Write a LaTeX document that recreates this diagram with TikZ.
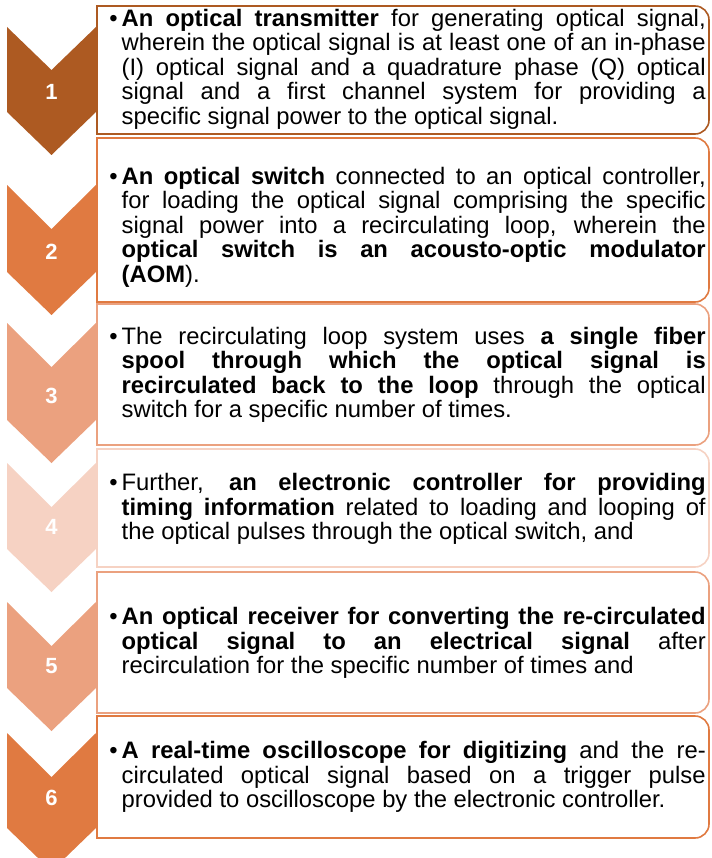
\documentclass[tikz,border=0pt]{standalone}
\usepackage{fontspec}
\setmainfont{Liberation Sans}
\definecolor{stepone}{RGB}{173,90,34}
\definecolor{steptwo}{RGB}{224,122,65}
\definecolor{stepthree}{RGB}{235,161,127}
\definecolor{stepfour}{RGB}{246,210,195}
\tolerance=10000
\hbadness=10000
\hyphenpenalty=10000
\exhyphenpenalty=10000

\begin{document}
\begin{tikzpicture}[x=1pt,y=-1pt,
	chev/.style={fill=#1},
	box/.style={draw=#1,line width=1.6pt,fill=white},
	num/.style={text=white,font=\fontsize{22}{22}\selectfont\bfseries},
	txt/.style={anchor=west,inner sep=0pt,text width=584pt,align=justify,
		font=\fontsize{23.8}{24.5}\selectfont}]
			\useasboundingbox (0,0) rectangle (711,858);
			
			% chevrons
			\fill[chev=stepone] (7,27) -- (51.5,70) -- (96,27) -- (96,112) -- (51.5,155) -- (7,112) -- cycle;
			\fill[chev=steptwo] (7,185) -- (51.5,229) -- (96,185) -- (96,272) -- (51.5,315) -- (7,272) -- cycle;
			\fill[chev=stepthree] (7,323) -- (51.5,367) -- (96,323) -- (96,420) -- (51.5,463) -- (7,420) -- cycle;
			\fill[chev=stepfour] (7,463) -- (51.5,507) -- (96,463) -- (96,549) -- (51.5,592) -- (7,549) -- cycle;
			\fill[chev=stepthree] (7,602) -- (51.5,646) -- (96,602) -- (96,688) -- (51.5,731) -- (7,688) -- cycle;
			\fill[chev=steptwo] (7,733) -- (51.5,777) -- (96,733) -- (96,828) -- (51.5,871) -- (7,828) -- cycle;
			
			\node[num] (n1) at (51.5,92) {1};
			\node[num] (n2) at (51.5,252) {2};
			\node[num] (n3) at (51.5,396) {3};
			\node[num] (n4) at (51.5,527) {4};
			\node[num] (n5) at (51.5,666) {5};
			\node[num] (n6) at (51.5,798) {6};
			
			% text boxes
			\draw[box=stepone] (97,6) -- (695,6) arc[start angle=-90,end angle=0,radius=14] -- (709,120) arc[start angle=0,end angle=90,radius=14] -- (97,134) -- cycle;
			\draw[box=steptwo] (97,138) -- (695,138) arc[start angle=-90,end angle=0,radius=14] -- (709,288) arc[start angle=0,end angle=90,radius=14] -- (97,302) -- cycle;
			\draw[box=stepthree] (97,304) -- (695,304) arc[start angle=-90,end angle=0,radius=14] -- (709,431) arc[start angle=0,end angle=90,radius=14] -- (97,445) -- cycle;
			\draw[box=stepfour] (97,449) -- (695,449) arc[start angle=-90,end angle=0,radius=14] -- (709,553) arc[start angle=0,end angle=90,radius=14] -- (97,567) -- cycle;
			\draw[box=stepthree] (97,572) -- (695,572) arc[start angle=-90,end angle=0,radius=14] -- (709,699) arc[start angle=0,end angle=90,radius=14] -- (97,713) -- cycle;
			\draw[box=steptwo] (97,716) -- (695,716) arc[start angle=-90,end angle=0,radius=14] -- (709,824) arc[start angle=0,end angle=90,radius=14] -- (97,838) -- cycle;
			
			\node[txt] (t1) at (121.5,69) {\leavevmode\llap{\textbullet\kern4pt}\textbf{An optical transmitter} for generating optical signal,\linebreak wherein the optical signal is at least one of an in-phase\linebreak (I) optical signal and a quadrature phase (Q) optical\linebreak signal and a first channel system for providing a\linebreak specific signal power to the optical signal.};
			\node[txt] (t2) at (121.5,227) {\leavevmode\llap{\textbullet\kern4pt}\textbf{An optical switch} connected to an optical controller,\linebreak for loading the optical signal comprising the specific\linebreak signal power into a recirculating loop, wherein the\linebreak \textbf{optical switch is an acousto-optic modulator}\linebreak \textbf{(AOM}).};
			\node[txt] (t3) at (121.5,375) {\leavevmode\llap{\textbullet\kern4pt}The recirculating loop system uses \textbf{a single fiber}\linebreak \textbf{spool through which the optical signal is}\linebreak \textbf{recirculated back to the loop} through the optical\linebreak switch for a specific number of times.};
			\node[txt] (t4) at (121.5,509) {\leavevmode\llap{\textbullet\kern4pt}Further, \textbf{an electronic controller for providing}\linebreak \textbf{timing information} related to loading and looping of\linebreak the optical pulses through the optical switch, and};
			\node[txt] (t5) at (121.5,643) {\leavevmode\llap{\textbullet\kern4pt}\textbf{An optical receiver for converting the re-circulated}\linebreak \textbf{optical signal to an electrical signal} after\linebreak recirculation for the specific number of times and};
			\node[txt] (t6) at (121.5,777) {\leavevmode\llap{\textbullet\kern4pt}\textbf{A real-time oscilloscope for digitizing} and the re-\linebreak circulated optical signal based on a trigger pulse\linebreak provided to oscilloscope by the electronic controller.};
			
\end{tikzpicture}
\end{document}
